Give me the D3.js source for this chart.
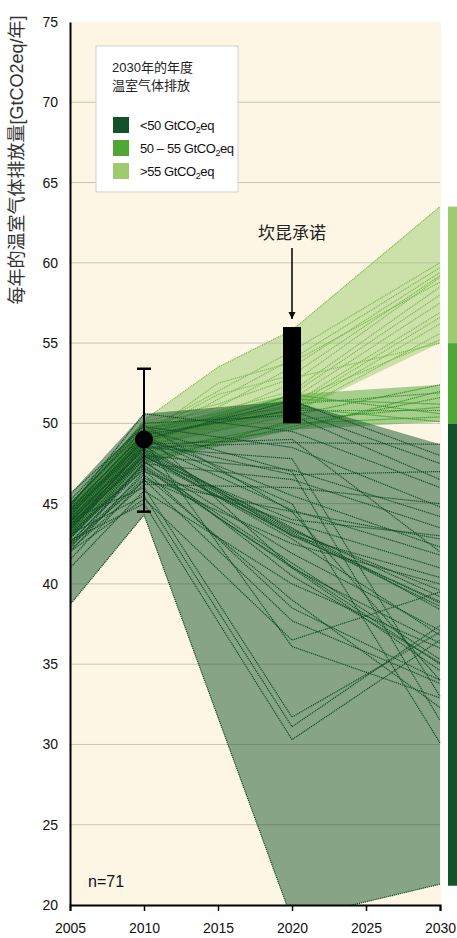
<!DOCTYPE html>
<html>
<head>
<meta charset="utf-8">
<script src="https://cdn.jsdelivr.net/npm/d3@7"></script>
<style>
  body { margin: 0; background: #fff; }
  text { font-family: "Liberation Sans", Arial, "Noto Sans CJK SC", sans-serif; }
  .cjk { font-family: "Liberation Sans", "Noto Sans CJK SC", sans-serif; }
</style>
</head>
<body>
<div id="vis"></div>
<script>
// scenario years (the >55 group has an extra 2015 point)
const yearsLow = [2005, 2010, 2020, 2030];
const yearsMid = [2005, 2010, 2020, 2030];
const yearsHigh = [2005, 2010, 2015, 2020, 2030];

const xTicks = [2005, 2010, 2015, 2020, 2025, 2030];
const yTicks = [20, 25, 30, 35, 40, 45, 50, 55, 60, 65, 70, 75];
const gridValues = [25, 30, 35, 40, 45, 50, 55, 60, 65, 70];

// <50 GtCO2eq in 2030
const lowScenarios = [
  [43.5, 48.5, 48.8, 48.7],
  [44.0, 49.0, 51.4, 48.0],
  [44.8, 50.6, 49.5, 46.0],
  [45.6, 49.8, 48.5, 44.8],
  [43.0, 48.0, 47.1, 44.2],
  [42.5, 47.5, 46.5, 43.5],
  [44.2, 49.2, 45.5, 42.3],
  [43.8, 48.8, 44.6, 41.8],
  [42.0, 47.0, 43.8, 41.0],
  [44.5, 48.6, 43.0, 40.4],
  [43.2, 48.2, 43.3, 39.6],
  [43.6, 48.4, 43.4, 39.2],
  [43.9, 48.1, 43.2, 38.8],
  [44.1, 48.3, 43.5, 38.4],
  [42.8, 47.8, 43.1, 38.6],
  [43.4, 48.0, 43.0, 38.9],
  [42.2, 47.6, 41.9, 37.1],
  [44.6, 49.4, 41.0, 36.3],
  [43.0, 47.4, 41.3, 35.3],
  [42.6, 47.2, 41.1, 35.0],
  [42.9, 47.3, 41.0, 34.6],
  [43.7, 47.7, 40.5, 35.1],
  [41.5, 46.5, 37.7, 33.8],
  [44.3, 48.9, 36.1, 32.9],
  [42.4, 46.8, 39.0, 32.3],
  [44.0, 46.0, 31.7, 37.0],
  [43.1, 45.5, 31.1, 37.4],
  [42.7, 45.0, 30.3, 36.5],
  [38.7, 44.3, 19.1, 21.3],
  [45.0, 49.6, 47.0, 31.5],
  [44.4, 49.1, 45.0, 30.1],
  [43.3, 48.7, 49.0, 42.0],
  [42.1, 46.2, 46.0, 45.0],
  [45.2, 50.0, 50.5, 46.5],
  [44.7, 49.3, 50.8, 47.5],
  [43.5, 47.9, 44.0, 43.0],
  [42.3, 46.6, 42.5, 40.0],
  [41.0, 45.8, 40.0, 36.0],
  [43.9, 48.5, 47.8, 33.0],
  [44.9, 49.9, 44.5, 34.0],
  [42.0, 45.3, 36.5, 39.5],
  [43.2, 47.1, 38.5, 34.0],
  [42.5, 46.4, 44.5, 42.8],
  [44.6, 48.9, 46.8, 47.0],
  [43.7, 48.0, 42.8, 36.8]
];

// 50-55 GtCO2eq in 2030
const midScenarios = [
  [43.8, 48.6, 50.5, 52.4],
  [44.2, 49.0, 51.2, 51.9],
  [43.0, 47.8, 49.8, 51.6],
  [44.6, 49.4, 51.5, 51.2],
  [42.8, 47.5, 50.2, 51.0],
  [44.0, 48.8, 51.8, 50.6],
  [43.4, 48.2, 50.0, 50.4],
  [45.0, 49.7, 51.0, 50.1],
  [43.6, 48.4, 49.6, 52.0],
  [44.4, 49.2, 50.8, 50.8]
];

// >55 GtCO2eq in 2030
const highScenarios = [
  [44.5, 50.2, 53.5, 55.8, 63.5],
  [44.0, 49.5, 52.0, 54.5, 60.0],
  [43.5, 49.0, 51.5, 54.0, 59.7],
  [43.8, 49.8, 51.0, 53.5, 59.4],
  [44.2, 49.3, 51.8, 53.0, 59.2],
  [43.2, 48.8, 50.5, 52.5, 59.1],
  [44.8, 50.0, 50.8, 52.0, 58.5],
  [43.6, 49.1, 50.2, 51.8, 58.0],
  [44.1, 49.6, 50.0, 51.5, 57.5],
  [43.0, 48.6, 49.8, 51.2, 56.9],
  [44.6, 49.9, 49.6, 51.0, 56.6],
  [43.9, 49.4, 50.3, 50.8, 56.2],
  [43.4, 48.9, 49.9, 50.6, 55.6],
  [44.3, 49.7, 50.6, 51.4, 55.2],
  [43.7, 49.2, 52.5, 53.8, 58.8],
  [44.9, 50.1, 51.2, 52.8, 55.0]
];

const legendTitle = ['2030年的年度', '温室气体排放'];
const legendLabels = ['<50 GtCO', '50 – 55 GtCO', '>55 GtCO'];
const groupColors = ['#11522a', '#4fa835', '#9ccc6e'];
const lineColors = ['#134f27', '#3a922a', '#7dbb52'];

// range of 2030 values shown as the bar at the right
const rangeBreaks = [21.2, 50, 55, 63.5];

const observed = { year: 2010, value: 49, low: 44.5, high: 53.4 };
const cancun = { year: 2020, low: 50, high: 56, label: '坎昆承诺' };
const sampleLabel = 'n=71';

const width = 457;
const height = 938;
const plot = { left: 70, right: 440, top: 22, bottom: 905 };

const x = d3.scaleLinear().domain([2005, 2030]).range([plot.left, plot.right]);
const y = d3.scaleLinear().domain([20, 75]).range([plot.bottom, plot.top]);

const svg = d3.select('#vis')
  .append('svg')
  .attr('width', width)
  .attr('height', height);

svg.append('defs').append('clipPath')
  .attr('id', 'plotclip')
  .append('rect')
  .attr('x', plot.left)
  .attr('y', plot.top)
  .attr('width', plot.right - plot.left + 1)
  .attr('height', plot.bottom - plot.top);

svg.append('rect')
  .attr('x', plot.left)
  .attr('y', plot.top)
  .attr('width', plot.right - plot.left + 1)
  .attr('height', plot.bottom - plot.top)
  .attr('fill', '#fdf6e5');

svg.append('g')
  .selectAll('line')
  .data(gridValues)
  .enter().append('line')
  .attr('x1', plot.left)
  .attr('x2', plot.right)
  .attr('y1', d => y(d))
  .attr('y2', d => y(d))
  .attr('stroke', '#c8c4bc')
  .attr('stroke-width', 1);

const groups = [
  { years: yearsHigh, rows: highScenarios, fill: groupColors[2], line: lineColors[2] },
  { years: yearsMid, rows: midScenarios, fill: groupColors[1], line: lineColors[1] },
  { years: yearsLow, rows: lowScenarios, fill: groupColors[0], line: lineColors[0] }
];

const area = d3.area()
  .x(d => x(d.year))
  .y0(d => y(d.min))
  .y1(d => y(d.max));

const line = d3.line()
  .x(d => x(d.year))
  .y(d => y(d.value));

const plotG = svg.append('g').attr('clip-path', 'url(#plotclip)');

groups.forEach(group => {
  const envelope = group.years.map((yr, i) => ({
    year: yr,
    min: d3.min(group.rows, r => r[i]),
    max: d3.max(group.rows, r => r[i])
  }));

  plotG.append('path')
    .datum(envelope)
    .attr('d', area)
    .attr('fill', group.fill)
    .attr('fill-opacity', 0.5);

  plotG.append('g')
    .selectAll('path')
    .data(group.rows)
    .enter().append('path')
    .attr('d', r => line(r.map((v, i) => ({ year: group.years[i], value: v }))))
    .attr('fill', 'none')
    .attr('stroke', group.line)
    .attr('stroke-width', 1.2)
    .attr('stroke-dasharray', '1.2,0.8');
});

// axes
const xAxis = svg.append('g')
  .attr('transform', `translate(0,${plot.bottom})`)
  .call(d3.axisBottom(x).tickValues(xTicks).tickFormat(d3.format('d')).tickSize(6).tickPadding(12));
xAxis.select('.domain').attr('stroke', '#000').attr('stroke-width', 2);
xAxis.selectAll('.tick line').attr('stroke', '#000').attr('stroke-width', 1.5);
xAxis.selectAll('text').attr('font-size', 14).attr('fill', '#111')
  .attr('font-family', '"Liberation Sans", Arial, sans-serif');

const yAxis = svg.append('g')
  .attr('transform', `translate(${plot.left},0)`)
  .call(d3.axisLeft(y).tickValues(yTicks).tickSize(0).tickPadding(12));
yAxis.select('.domain').attr('stroke', '#000').attr('stroke-width', 2);
yAxis.selectAll('text').attr('font-size', 14).attr('fill', '#111')
  .attr('font-family', '"Liberation Sans", Arial, sans-serif');

svg.append('text')
  .attr('class', 'cjk')
  .attr('transform', `translate(23,${160}) rotate(-90)`)
  .attr('text-anchor', 'middle')
  .attr('font-size', 18)
  .attr('fill', '#333')
  .text('每年的温室气体排放量[GtCO2eq/年]');

// 2030 range bar at the right
svg.append('g')
  .selectAll('rect')
  .data(d3.range(rangeBreaks.length - 1))
  .enter().append('rect')
  .attr('x', 448)
  .attr('width', 9)
  .attr('y', i => y(rangeBreaks[i + 1]))
  .attr('height', i => y(rangeBreaks[i]) - y(rangeBreaks[i + 1]))
  .attr('fill', i => groupColors[i]);

// observed 2010 value with uncertainty
svg.append('line')
  .attr('x1', x(observed.year)).attr('x2', x(observed.year))
  .attr('y1', y(observed.high)).attr('y2', y(observed.low))
  .attr('stroke', '#000').attr('stroke-width', 2);
[observed.high, observed.low].forEach(v => {
  svg.append('line')
    .attr('x1', x(observed.year) - 7).attr('x2', x(observed.year) + 7)
    .attr('y1', y(v)).attr('y2', y(v))
    .attr('stroke', '#000').attr('stroke-width', 2.5);
});
svg.append('circle')
  .attr('cx', x(observed.year))
  .attr('cy', y(observed.value))
  .attr('r', 9)
  .attr('fill', '#000');

// Cancun pledges
svg.append('rect')
  .attr('x', x(cancun.year) - 9)
  .attr('width', 18)
  .attr('y', y(cancun.high))
  .attr('height', y(cancun.low) - y(cancun.high))
  .attr('fill', '#000');

svg.append('defs').append('marker')
  .attr('id', 'arrow')
  .attr('viewBox', '0 0 10 10')
  .attr('refX', 10).attr('refY', 5)
  .attr('markerWidth', 5).attr('markerHeight', 5)
  .attr('orient', 'auto')
  .append('path')
  .attr('d', 'M0,0 L10,5 L0,10 z')
  .attr('fill', '#000');

svg.append('line')
  .attr('x1', x(cancun.year)).attr('x2', x(cancun.year))
  .attr('y1', 248).attr('y2', y(cancun.high) - 8)
  .attr('stroke', '#000').attr('stroke-width', 1.5)
  .attr('marker-end', 'url(#arrow)');

svg.append('text')
  .attr('class', 'cjk')
  .attr('x', x(cancun.year))
  .attr('y', 239)
  .attr('text-anchor', 'middle')
  .attr('font-size', 17)
  .attr('fill', '#222')
  .text(cancun.label);

svg.append('text')
  .attr('x', 88)
  .attr('y', 887)
  .attr('font-size', 16)
  .attr('fill', '#111')
  .text(sampleLabel);

// legend
const legend = svg.append('g');
legend.append('rect')
  .attr('x', 96).attr('y', 46)
  .attr('width', 142).attr('height', 146)
  .attr('fill', '#fff')
  .attr('stroke', '#cfcfcf');

legend.selectAll('.ltitle')
  .data(legendTitle)
  .enter().append('text')
  .attr('class', 'cjk')
  .attr('x', 112)
  .attr('y', (d, i) => 72 + i * 18)
  .attr('font-size', 13)
  .attr('fill', '#222')
  .text(d => d);

const items = legend.selectAll('.item')
  .data(legendLabels)
  .enter().append('g')
  .attr('transform', (d, i) => `translate(113,${117 + i * 23})`);

items.append('rect')
  .attr('width', 16).attr('height', 16)
  .attr('fill', (d, i) => groupColors[i]);

const labels = items.append('text')
  .attr('x', 27)
  .attr('y', 13)
  .attr('font-size', 13)
  .attr('fill', '#111')
  .attr('letter-spacing', -0.4);
labels.append('tspan').text(d => d);
labels.append('tspan').attr('font-size', 9).attr('dy', 3).text('2');
labels.append('tspan').attr('dy', -3).text('eq');
</script>
</body>
</html>
